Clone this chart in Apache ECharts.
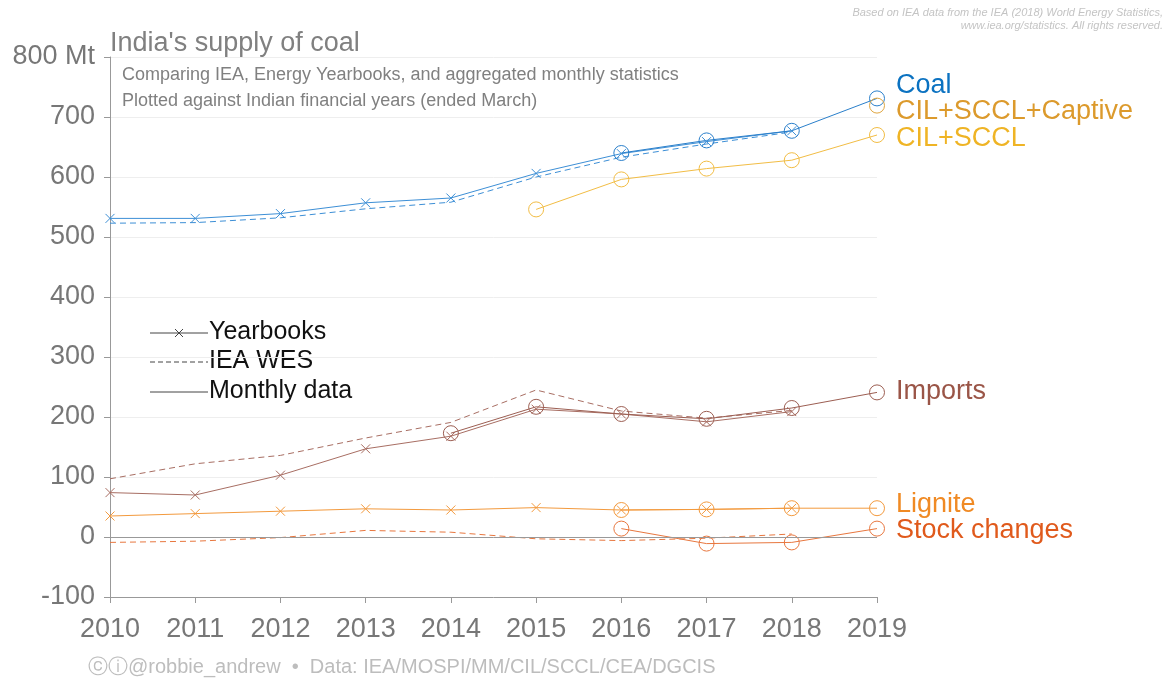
<!DOCTYPE html>
<html>
<head>
<meta charset="utf-8">
<script src="https://cdn.jsdelivr.net/npm/echarts@6/dist/echarts.min.js"></script>
<style>
  html, body { margin: 0; padding: 0; background: #fff; }
  #chart { width: 1169px; height: 682px; }
</style>
</head>
<body>
<div id="chart"></div>
<script>
const years = ['2010', '2011', '2012', '2013', '2014', '2015', '2016', '2017', '2018', '2019'];
const yTicks = { min: -100, max: 800, step: 100 };

// Mt, Indian financial years
const coalYearbooks = [531, 531, 539, 557, 565, 606, 639, 659, 677, null];
const coalWes = [523, 524, 532, 547, 558, 600, 633, 655, 675, null];
const coalMonthly = [null, null, null, null, null, null, 640, 661, 677, 731];
const captiveMonthly = [null, null, null, null, null, null, null, null, null, 719];
const cilSccl = [null, null, null, null, null, 546, 596, 614, 628, 670];
const importsYearbooks = [74, 70, 103, 147, 168, 213, 205, 192, 209, null];
const importsWes = [97, 122, 136, 165, 191, 245, 210, 198, 211, null];
const importsMonthly = [null, null, null, null, 173, 217, 205, 197, 215, 241];
const ligniteYearbooks = [35, 39, 43, 47, 45, 49, 45, 46, 48, null];
const ligniteMonthly = [null, null, null, null, null, null, 45, 46, 48, 48];
const stockWes = [-9, -7, -1, 11, 8, -3, -6, -2, 5, null];
const stockMonthly = [null, null, null, null, null, null, 14, -11, -9, 14];

const FONT = '"Liberation Sans", Arial, sans-serif';
const CROSS = 'path://M0,0L10,10M10,0L0,10';

const makeLine = (name, data, color, kind) => {
  const s = {
    name: name,
    type: 'line',
    data: data,
    connectNulls: false,
    lineStyle: { color: color, width: 1, type: kind === 'wes' ? [6, 4] : 'solid' },
    emphasis: { disabled: true },
    silent: true
  };
  if (kind === 'yb') {
    s.symbol = CROSS;
    s.symbolSize = 9;
    s.itemStyle = { color: 'transparent', borderColor: color, borderWidth: 1 };
  } else if (kind === 'monthly') {
    s.symbol = 'circle';
    s.symbolSize = 15;
    s.itemStyle = { color: 'transparent', borderColor: color, borderWidth: 1 };
  } else {
    s.showSymbol = false;
  }
  return s;
};

const txt = (x, y, text, fill, font, extra) => ({
  type: 'text', x: x, y: y, silent: true,
  style: Object.assign({ text: text, fill: fill, font: font }, extra || {})
});
const seg = (x1, y1, x2, y2, dash) => ({
  type: 'line', silent: true,
  shape: { x1: x1, y1: y1, x2: x2, y2: y2 },
  style: { stroke: '#444', lineWidth: 1, lineDash: dash || null }
});

const chart = echarts.init(document.getElementById('chart'));

const option = {
  animation: false,
  backgroundColor: '#fff',
  textStyle: { fontFamily: FONT },
  title: [
    {
      text: "India's supply of coal",
      left: 105, top: 25,
      textStyle: { fontFamily: FONT, fontSize: 27, fontWeight: 'normal', color: '#808080' }
    },
    {
      text: 'Comparing IEA, Energy Yearbooks, and aggregated monthly statistics\nPlotted against Indian financial years (ended March)',
      left: 117, top: 57,
      textStyle: { fontFamily: FONT, fontSize: 18, fontWeight: 'normal', color: '#808080', lineHeight: 26 }
    }
  ],
  grid: { left: 110, right: 292, top: 57, bottom: 85 },
  xAxis: {
    type: 'category',
    data: years,
    boundaryGap: false,
    axisLine: { onZero: false, lineStyle: { color: '#999' } },
    axisTick: { show: true, length: 6, lineStyle: { color: '#999' } },
    axisLabel: { color: '#777', fontSize: 27, fontFamily: FONT, margin: 19 },
    splitLine: { show: false }
  },
  yAxis: {
    type: 'value',
    min: yTicks.min, max: yTicks.max, interval: yTicks.step,
    axisLine: { show: true, lineStyle: { color: '#999' } },
    axisTick: { show: true, length: 6, lineStyle: { color: '#999' } },
    axisLabel: {
      color: '#777', fontSize: 27, fontFamily: FONT, margin: 15,
      formatter: v => (v === yTicks.max ? v + ' Mt' : String(v))
    },
    splitLine: { show: true, lineStyle: { color: '#eeeeee', width: 1 } }
  },
  series: [
    makeLine('Coal yearbooks', coalYearbooks, '#3d8fd6', 'yb'),
    makeLine('Coal IEA', coalWes, '#3d8fd6', 'wes'),
    makeLine('Coal monthly', coalMonthly, '#2a7fcb', 'monthly'),
    makeLine('CIL+SCCL+Captive', captiveMonthly, '#e0a640', 'monthly'),
    makeLine('CIL+SCCL', cilSccl, '#f2bd45', 'monthly'),
    makeLine('Imports yearbooks', importsYearbooks, '#a86e63', 'yb'),
    makeLine('Imports IEA', importsWes, '#a86e63', 'wes'),
    makeLine('Imports monthly', importsMonthly, '#9c5e52', 'monthly'),
    makeLine('Lignite yearbooks', ligniteYearbooks, '#f39a3e', 'yb'),
    makeLine('Lignite monthly', ligniteMonthly, '#f39a3e', 'monthly'),
    Object.assign(makeLine('Stock IEA', stockWes, '#e8773f', 'wes'), {
      markLine: {
        silent: true,
        symbol: 'none',
        label: { show: false },
        lineStyle: { color: '#999', type: 'solid', width: 1 },
        data: [{ yAxis: 0 }]
      }
    }),
    makeLine('Stock monthly', stockMonthly, '#e8773f', 'monthly')
  ],
  graphic: [
    // credits
    txt(1163, 6, 'Based on IEA data from the IEA (2018) World Energy Statistics,\nwww.iea.org/statistics. All rights reserved.',
      '#c4c4c4', 'italic 11px ' + FONT, { align: 'right', lineHeight: 13 }),
    txt(88, 657, 'ⓒⓘ@robbie_andrew  •  Data: IEA/MOSPI/MM/CIL/SCCL/CEA/DGCIS', '#bdbdbd', '20px ' + FONT),
    // line style key
    seg(150, 333, 208, 333),
    seg(175, 329, 183, 337),
    seg(183, 329, 175, 337),
    seg(150, 362, 208, 362, [5, 3]),
    seg(150, 392, 208, 392),
    txt(209, 320, 'Yearbooks', '#111', '25px ' + FONT),
    txt(209, 349, 'IEA WES', '#111', '25px ' + FONT),
    txt(209, 379, 'Monthly data', '#111', '25px ' + FONT),
    // series labels
    txt(896, 72, 'Coal', '#0b72c1', '27px ' + FONT),
    txt(896, 98, 'CIL+SCCL+Captive', '#dc9a2c', '27px ' + FONT),
    txt(896, 125, 'CIL+SCCL', '#efb425', '27px ' + FONT),
    txt(896, 378, 'Imports', '#9a5547', '27px ' + FONT),
    txt(896, 491, 'Lignite', '#f08a24', '27px ' + FONT),
    txt(896, 517, 'Stock changes', '#e05a1c', '27px ' + FONT)
  ]
};

chart.setOption(option);
window.addEventListener('resize', () => chart.resize());
</script>
</body>
</html>
